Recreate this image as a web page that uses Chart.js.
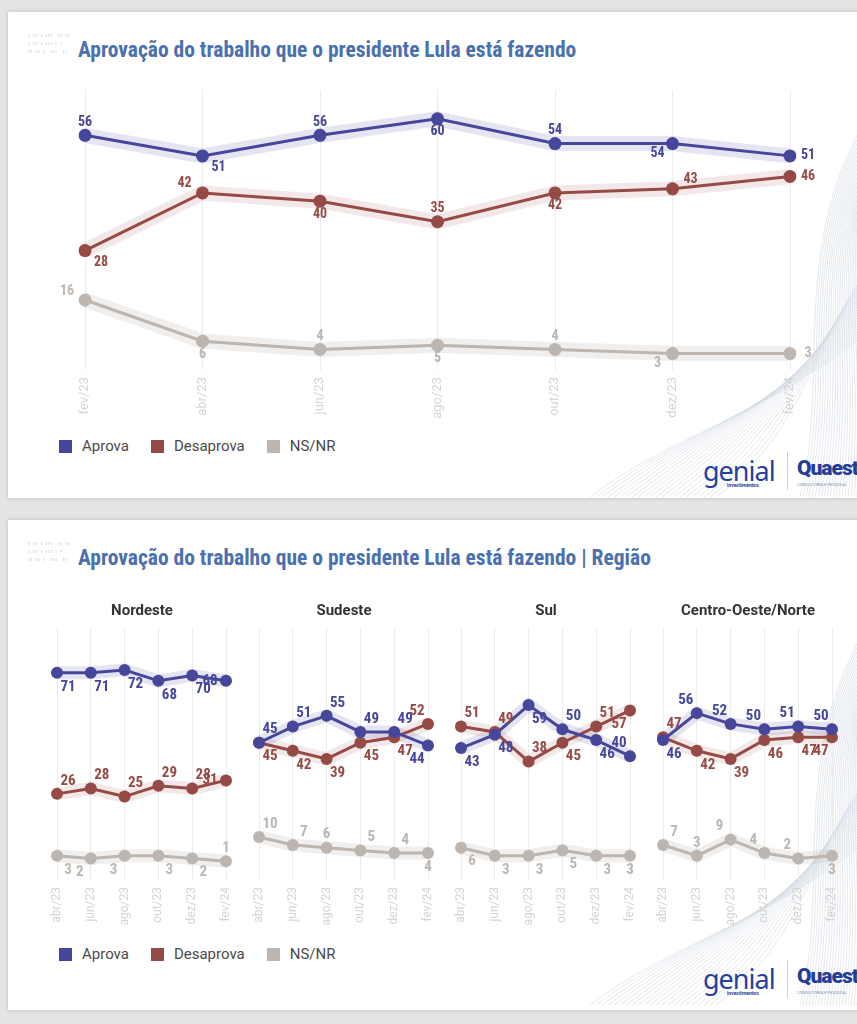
<!DOCTYPE html>
<html>
<head>
<meta charset="utf-8">
<script src="https://cdn.jsdelivr.net/npm/chart.js@4.4.1/dist/chart.umd.min.js"></script>
<style>
body{margin:0;width:857px;height:1024px;background:#e4e4e4;overflow:hidden;position:relative;font-family:Roboto,"Liberation Sans",sans-serif}
.card{position:absolute;left:8px;width:870px;background:#fff;box-shadow:0 0 4px rgba(0,0,0,.18);overflow:hidden}
.title{position:absolute;left:78px;font-family:"Liberation Sans Narrow","Roboto Condensed",Roboto,sans-serif;font-weight:bold;font-size:21.5px;color:#4a70ae;white-space:nowrap}
.ticks{position:absolute;left:28px;font-size:6px;line-height:8px;color:#b9c3d1;letter-spacing:1px;white-space:pre}
.legend{position:absolute;left:59px;font-size:15px;color:#4a4a4a;display:flex;align-items:center}
.legend span.box{display:inline-block;width:13px;height:13px;margin-right:10px}
.legend span.txt{margin-right:22px}
.rtitle{position:absolute;width:180px;text-align:center;font-family:"Liberation Sans Narrow",Roboto,sans-serif;font-weight:bold;font-size:15px;color:#333}
.logo{position:absolute;left:703px;height:40px}
.genial{position:absolute;left:0;top:0;font-size:27px;color:#2440a0;font-family:"Noto Sans",sans-serif;letter-spacing:-1px}
.inv{position:absolute;left:24px;top:30px;font-size:5px;color:#2440a0;font-weight:bold}
.sep{position:absolute;left:84px;top:0;width:1px;height:38px;background:#b9d3ec}
.quaest{position:absolute;left:94px;top:4px;font-size:21px;font-weight:900;color:#233c97;letter-spacing:-1px}
.qsub{position:absolute;left:94px;top:30px;font-size:4px;color:#8090b0;white-space:nowrap}
canvas{position:absolute}
svg{position:absolute}
</style>
</head>
<body>
<div class="card" style="top:12px;height:486px"></div>
<div class="card" style="top:520px;height:490px"></div>
<svg id="wave1" width="857" height="1024" style="left:0;top:0"></svg>

<div class="ticks" style="top:31px">ı ıı ı ııı  ıı ıı
ı ıı ı ııı ı ı
ıı ıı ı  ııı  ıı</div>
<div class="title" style="top:37px">Aprovação do trabalho que o presidente Lula está fazendo</div>

<div class="ticks" style="top:539px">ı ıı ı ııı  ıı ıı
ı ıı ı ııı ı ı
ıı ıı ı  ııı  ıı</div>
<div class="title" style="top:545px">Aprovação do trabalho que o presidente Lula está fazendo | Região</div>

<canvas id="top" width="800" height="350" style="left:40px;top:70px"></canvas>
<canvas id="r0" width="219" height="316" style="left:32px;top:612px"></canvas>
<canvas id="r1" width="219" height="316" style="left:234px;top:612px"></canvas>
<canvas id="r2" width="219" height="316" style="left:436px;top:612px"></canvas>
<canvas id="r3" width="219" height="316" style="left:638px;top:612px"></canvas>

<div id="t0" class="rtitle" style="left:52px;top:601px"></div>
<div id="t1" class="rtitle" style="left:254px;top:601px"></div>
<div id="t2" class="rtitle" style="left:456px;top:601px"></div>
<div id="t3" class="rtitle" style="left:658px;top:601px"></div>

<div class="legend" style="top:437px" id="leg1"></div>
<div class="legend" style="top:945px" id="leg2"></div>

<div class="logo" style="top:452px"><span class="genial">genial</span><span class="inv">investimentos</span><span class="sep"></span><span class="quaest">Quaest</span><span class="qsub">CONSULTORIA E PESQUISA</span></div>
<div class="logo" style="top:960px"><span class="genial">genial</span><span class="inv">investimentos</span><span class="sep"></span><span class="quaest">Quaest</span><span class="qsub">CONSULTORIA E PESQUISA</span></div>

<script>
// DATA
const seriesNames = ['Aprova', 'Desaprova', 'NS/NR'];

const monthsTop = ['fev/23', 'abr/23', 'jun/23', 'ago/23', 'out/23', 'dez/23', 'fev/24'];
const aprovaTop = [56, 51, 56, 60, 54, 54, 51];
const desaprovaTop = [28, 42, 40, 35, 42, 43, 46];
const nsnrTop = [16, 6, 4, 5, 4, 3, 3];

const regioes = ['Nordeste', 'Sudeste', 'Sul', 'Centro-Oeste/Norte'];
const monthsReg = ['abr/23', 'jun/23', 'ago/23', 'out/23', 'dez/23', 'fev/24'];
const aprovaNordeste = [71, 71, 72, 68, 70, 68];
const desaprovaNordeste = [26, 28, 25, 29, 28, 31];
const nsnrNordeste = [3, 2, 3, 3, 2, 1];
const aprovaSudeste = [45, 51, 55, 49, 49, 44];
const desaprovaSudeste = [45, 42, 39, 45, 47, 52];
const nsnrSudeste = [10, 7, 6, 5, 4, 4];
const aprovaSul = [43, 48, 59, 50, 46, 40];
const desaprovaSul = [51, 49, 38, 45, 51, 57];
const nsnrSul = [6, 3, 3, 5, 3, 3];
const aprovaCO = [46, 56, 52, 50, 51, 50];
const desaprovaCO = [47, 42, 39, 46, 47, 47];
const nsnrCO = [7, 3, 9, 4, 2, 3];

// STYLE
const colors = ['#46469a', '#964a45', '#bdb5af'];
const bands = ['rgba(70,70,154,0.14)', 'rgba(150,74,69,0.13)', 'rgba(189,181,175,0.22)'];

// where each value label sits around its point
const posTop = [
    ['a', 'br', 'a', 'b', 'a', 'bl', 'r'],
    ['br', 'al', 'b', 'a', 'b', 'ar', 'r'],
    ['al', 'b', 'a', 'b', 'a', 'bl', 'r']
];
const posReg = [
    [['br', 'br', 'br', 'br', 'br', 'l'], ['ar', 'ar', 'ar', 'ar', 'ar', 'l'], ['br', 'bl', 'bl', 'br', 'br', 'a']],
    [['ar', 'ar', 'ar', 'ar', 'ar', 'bl'], ['br', 'br', 'br', 'br', 'br', 'al'], ['ar', 'ar', 'a', 'ar', 'ar', 'b']],
    [['br', 'br', 'br', 'ar', 'br', 'al'], ['ar', 'ar', 'ar', 'br', 'ar', 'bl'], ['br', 'br', 'br', 'br', 'br', 'b']],
    [['br', 'al', 'al', 'al', 'al', 'al'], ['ar', 'br', 'br', 'br', 'br', 'bl'], ['ar', 'a', 'al', 'al', 'al', 'b']]
];
const offTop = { a: [0, -13], b: [0, 13], ar: [18, -9], br: [16, 12], al: [-18, -9], bl: [-15, 10], r: [18, 0], l: [-18, 0] };
const offReg = { a: [0, -13], b: [0, 14], ar: [11, -13], br: [11, 14], al: [-11, -13], bl: [-11, 14], r: [16, 0], l: [-16, 0] };

const LABEL_FONT = '"Liberation Sans Narrow", "Roboto Condensed", Roboto, sans-serif';

// VALUE LABELS
const valueLabels = {
    id: 'valueLabels',
    afterDatasetsDraw(chart, args, opts) {
        const ctx = chart.ctx;
        chart.data.datasets.forEach((ds, i) => {
            if (!ds.labelPos) return;
            const meta = chart.getDatasetMeta(i);
            ctx.save();
            ctx.font = opts.font;
            ctx.fillStyle = ds.borderColor;
            ctx.textAlign = 'center';
            ctx.textBaseline = 'middle';
            meta.data.forEach((pt, j) => {
                const o = opts.offsets[ds.labelPos[j]];
                ctx.fillText(ds.data[j], pt.x + o[0], pt.y + o[1]);
            });
            ctx.restore();
        });
    }
};

function makeChart(id, labels, series, pos, cfg) {
    const datasets = [];
    series.forEach((data, k) => {
        datasets.push({
            data: data,
            borderColor: colors[k],
            backgroundColor: colors[k],
            borderWidth: cfg.line,
            pointRadius: cfg.point,
            pointHoverRadius: cfg.point,
            pointBorderWidth: 0,
            labelPos: pos[k],
            order: 0
        });
        datasets.push({
            data: data,
            borderColor: bands[k],
            borderWidth: cfg.band,
            pointRadius: 0,
            pointHoverRadius: 0,
            order: 1
        });
    });

    return new Chart(document.getElementById(id), {
        type: 'line',
        data: { labels: labels, datasets: datasets },
        options: {
            responsive: false,
            animation: false,
            layout: { padding: cfg.pad },
            scales: {
                x: {
                    offset: false,
                    grid: { color: '#ececec', drawTicks: false },
                    border: { display: false },
                    ticks: {
                        color: '#d4d4d4',
                        font: { family: 'Roboto', size: cfg.tick },
                        minRotation: 90,
                        maxRotation: 90,
                        padding: 7,
                        autoSkip: false
                    },
                    afterFit: s => { s.height = cfg.axisH; }
                },
                y: { display: false, min: cfg.min, max: cfg.max }
            },
            plugins: {
                legend: { display: false },
                tooltip: { enabled: false },
                valueLabels: { font: cfg.font, offsets: cfg.offsets }
            }
        },
        plugins: [valueLabels]
    });
}

makeChart('top', monthsTop, [aprovaTop, desaprovaTop, nsnrTop], posTop, {
    line: 3, point: 6.5, band: 15, tick: 13, axisH: 50,
    pad: { left: 45, right: 50, top: 20, bottom: 0 },
    min: -1, max: 67,
    font: 'bold 14px ' + LABEL_FONT, offsets: offTop
});

const regData = [
    [aprovaNordeste, desaprovaNordeste, nsnrNordeste],
    [aprovaSudeste, desaprovaSudeste, nsnrSudeste],
    [aprovaSul, desaprovaSul, nsnrSul],
    [aprovaCO, desaprovaCO, nsnrCO]
];
regData.forEach((series, k) => {
    document.getElementById('t' + k).textContent = regioes[k];
    makeChart('r' + k, monthsReg, series, posReg[k], {
        line: 3, point: 6, band: 13, tick: 12, axisH: 48,
        pad: { left: 25, right: 25, top: 15, bottom: 0 },
        min: -6, max: 88,
        font: 'bold 15px ' + LABEL_FONT, offsets: offReg
    });
});

// LEGENDS
['leg1', 'leg2'].forEach(id => {
    const el = document.getElementById(id);
    seriesNames.forEach((name, k) => {
        el.innerHTML += `<span class="box" style="background:${colors[k]}"></span><span class="txt">${name}</span>`;
    });
});

// DECORATIVE WAVES
const svg = document.getElementById('wave1');
let paths = '';
[0, 508].forEach(dy => {
    for (let i = 0; i < 22; i++) {
        const s = i * 6;
        paths += `<path d="M ${590 + s} ${dy + 497} C ${680 + s} ${dy + 430}, ${760 + s * 0.4} ${dy + 420 - s * 0.6}, ${870} ${dy + 330 - s * 0.5}" />`;
        paths += `<path d="M ${800 + i * 3} ${dy + 497} C ${830 + i * 2} ${dy + 380}, ${790 + i * 3} ${dy + 260}, ${860} ${dy + 130 + i * 4}" />`;
    }
});
svg.innerHTML = `<g fill="none" stroke="#c9d2dd" stroke-width="0.6" opacity="0.8">${paths}</g>`;
</script>
</body>
</html>
